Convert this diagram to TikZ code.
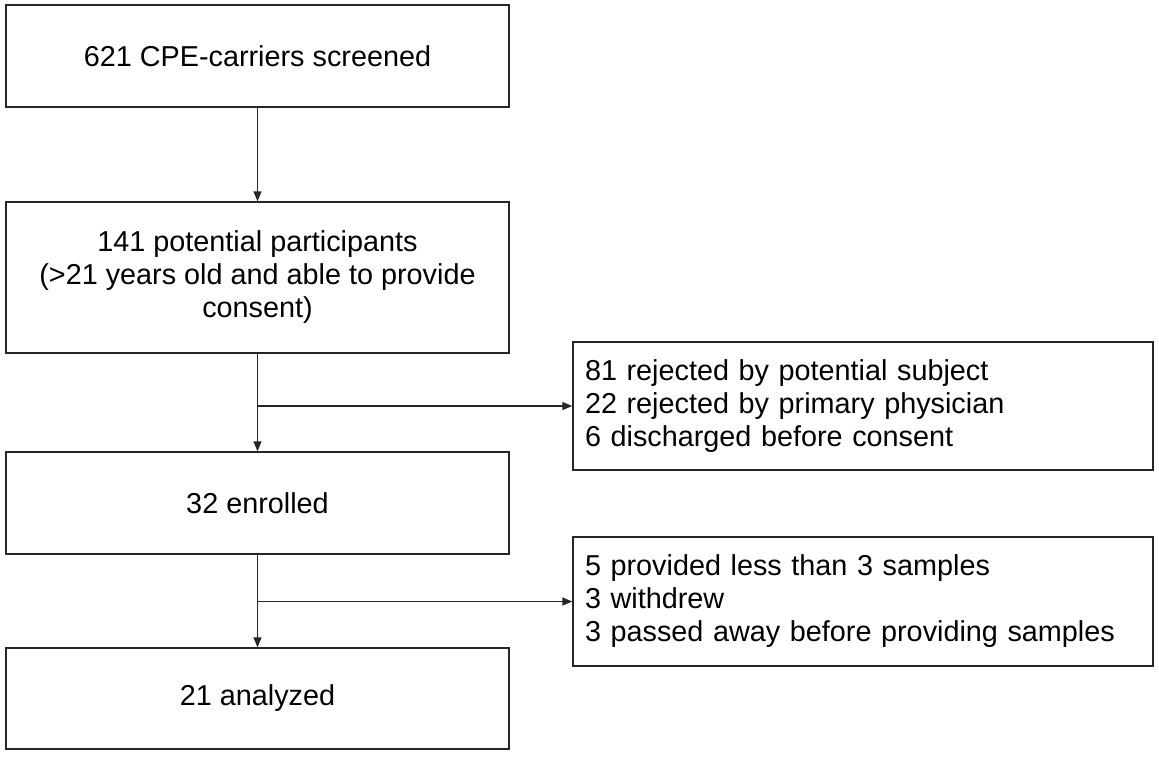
\documentclass[tikz,border=0pt]{standalone}
\usepackage{fontspec}
\setmainfont{Liberation Sans}
\usetikzlibrary{arrows.meta}
\begin{document}
\begin{tikzpicture}[x=0.5pt,y=-0.5pt,
  box/.style={draw=black!85, line width=0.7pt, rectangle, inner sep=0pt,
    font=\fontsize{14.4}{16.5}\selectfont, align=center, minimum width=251.5pt},
  side/.style={draw=black!85, line width=0.7pt, rectangle, inner ysep=0pt, inner xsep=6pt,
    font=\fontsize{14.4}{16.5}\selectfont, align=left, text width=278pt},
  arr/.style={draw=black!85, line width=0.7pt, -{Triangle[length=5pt,width=4pt]}}]
\useasboundingbox[fill=white] (0,0) rectangle (1159,761);
\node[box, minimum height=51pt] (b1) at (257.5,56) {621 CPE-carriers screened};
\node[box, minimum height=75.5pt] (b2) at (257.5,277.5) {141 potential participants\\(>21 years old and able to provide\\consent)};
\node[box, minimum height=51pt] (b3) at (257.5,503) {32 enrolled};
\node[box, minimum height=50.5pt] (b4) at (257.5,698.5) {21 analyzed};
\node[side, minimum height=64pt] (s1) at (863,406) {81 rejected by potential subject\\22 rejected by primary physician\\6 discharged before consent};
\node[side, minimum height=64.5pt] (s2) at (863,601.5) {5 provided less than 3 samples\\3 withdrew\\3 passed away before providing samples};
\draw[arr] (b1) -- (b2);
\draw[arr] (b2) -- (b3);
\draw[arr] (b3) -- (b4);
\coordinate (j1) at (b2.south |- s1.west);
\coordinate (j2) at (b3.south |- s2.west);
\draw[arr] (j1) -- (s1.west);
\draw[arr] (j2) -- (s2.west);
\end{tikzpicture}
\end{document}
